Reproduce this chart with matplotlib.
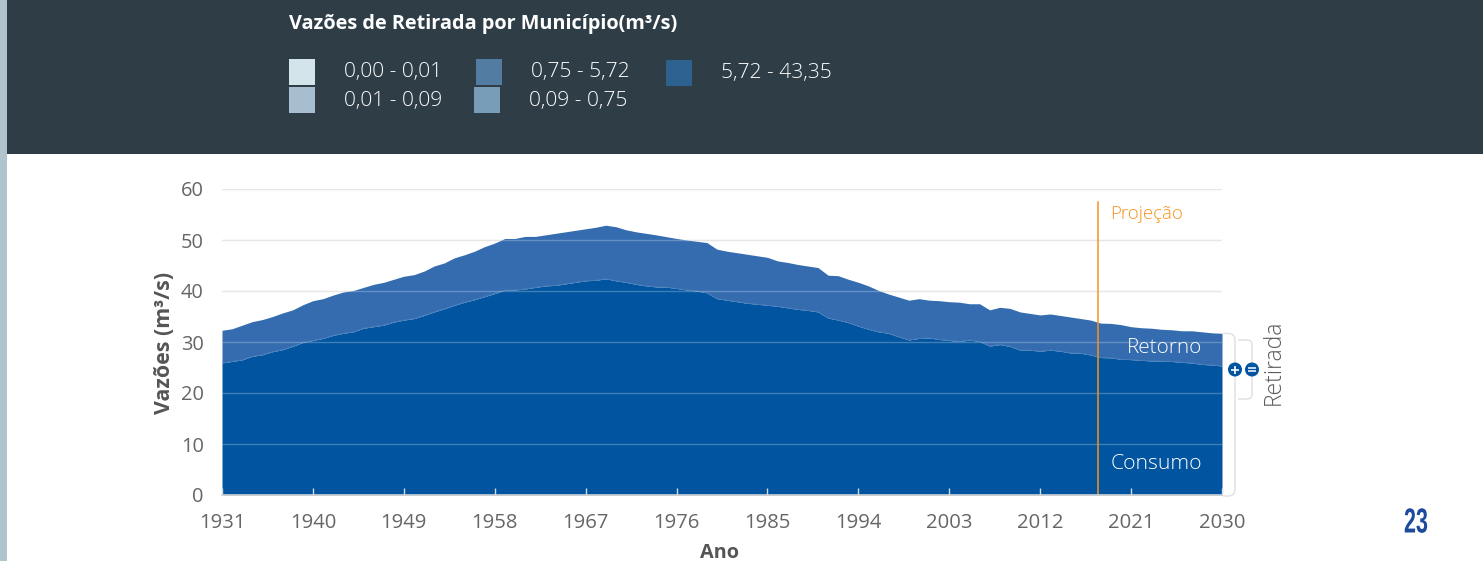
import numpy as np
import matplotlib
matplotlib.use("Agg")
import matplotlib.pyplot as plt
from matplotlib.patches import Rectangle, PathPatch, Circle
from matplotlib.path import Path
from matplotlib.patheffects import AbstractPathEffect
from matplotlib.transforms import Affine2D

plt.rcParams['font.family'] = ['Open Sans', 'DejaVu Sans']

years = list(range(1931, 2031))
consumo = [25.9,26.2,26.5,27.2,27.5,28.1,28.5,29.15,29.9,30.3,
           30.7,31.3,31.7,32.0,32.7,33.0,33.3,33.9,34.3,34.6,
           35.2,35.9,36.5,37.2,37.8,38.3,38.9,39.5,40.2,40.2,
           40.4,40.7,41.0,41.1,41.4,41.7,42.0,42.1,42.4,42.0,
           41.7,41.3,41.0,40.8,40.75,40.5,40.2,40.0,39.65,38.5,
           38.2,37.9,37.6,37.4,37.2,37.0,36.7,36.4,36.2,35.9,
           34.7,34.3,33.8,33.1,32.5,32.0,31.7,31.0,30.4,30.7,
           30.8,30.5,30.3,30.1,30.4,30.1,29.2,29.5,29.15,28.4,
           28.4,28.2,28.4,28.2,27.85,27.8,27.45,26.95,26.9,26.6,
           26.55,26.4,26.3,26.25,26.2,26.0,25.9,25.6,25.5,25.3]
retirada = [32.3,32.6,33.3,34.0,34.4,35.0,35.7,36.3,37.3,38.1,
            38.5,39.2,39.8,40.1,40.7,41.3,41.7,42.3,42.9,43.2,
            43.9,44.9,45.5,46.5,47.1,47.8,48.7,49.4,50.3,50.3,
            50.7,50.7,51.0,51.3,51.6,51.9,52.2,52.5,52.9,52.6,
            52.0,51.6,51.3,51.0,50.65,50.3,50.0,49.75,49.5,48.2,
            47.8,47.5,47.2,46.9,46.6,45.9,45.6,45.2,44.9,44.6,
            43.1,43.0,42.3,41.7,41.0,40.1,39.4,38.8,38.2,38.5,
            38.2,38.1,37.9,37.8,37.5,37.5,36.3,36.8,36.6,35.9,
            35.6,35.3,35.5,35.2,34.9,34.6,34.3,33.7,33.65,33.4,
            33.0,32.8,32.7,32.5,32.4,32.2,32.2,32.0,31.8,31.7]
xticks = list(range(1931, 2031, 9))
yticks = [0, 10, 20, 30, 40, 50, 60]
projection_year = 2017.7
legend_title = "Vazões de Retirada por Município(m³/s)"
legend_labels = ["0,00 - 0,01", "0,01 - 0,09", "0,75 - 5,72", "0,09 - 0,75", "5,72 - 43,35"]
legend_colors = ["#d3e5ea", "#a6becf", "#527ca1", "#789db8", "#2d6190"]

W, H = 1483, 561
fig = plt.figure(figsize=(W/100, H/100), dpi=100, facecolor="white")

# background overlay in pixel coordinates
bg = fig.add_axes([0, 0, 1, 1], zorder=0)
bg.set_xlim(0, W); bg.set_ylim(H, 0); bg.axis("off")
bg.add_patch(Rectangle((0, 0), 7, H, fc="#b0c4ce", ec="none"))
bg.add_patch(Rectangle((7, 0), W-7, 154, fc="#2f3e46", ec="none"))
bg.text(289, 24, legend_title, color="white", fontsize=14.3, fontweight="bold", va="center", ha="left")
swatches = [(289, 59, 26, 26, 344, 72), (289, 87, 26, 26, 344, 101),
            (476, 59, 26, 26, 531, 72), (474, 87, 26, 26, 529, 101),
            (666, 60, 26, 26, 721, 73)]
for (x, y, w, h, tx, ty), c, l in zip(swatches, legend_colors, legend_labels):
    bg.add_patch(Rectangle((x, y), w, h, fc=c, ec="none"))
    bg.text(tx, ty, l, color="white", fontsize=15.1, va="center", ha="left", fontweight="light")

# main chart
ax = fig.add_axes([222/W, 1-495/H, 1000/W, 306/H], zorder=1)
ax.patch.set_alpha(0)
ax.set_xlim(1931, 2030); ax.set_ylim(0, 60)
cons = np.array(consumo); ret = np.array(retirada)
ax.fill_between(years, 0, cons, color="#0054a0", lw=0, zorder=2)
ax.fill_between(years, cons, ret, color="#346caf", lw=0, zorder=2)
ax.plot(years, cons, color="#4a80bc", lw=0.5, zorder=2.5)
for y in yticks[1:]:
    ax.axhline(y, color="#dfdfdf", lw=1.0, zorder=1)
    ax.axhline(y, color="white", alpha=0.25, lw=1.0, zorder=3)
for s in ["top", "right", "left"]:
    ax.spines[s].set_visible(False)
ax.spines["bottom"].set_color("#d5d5d5"); ax.spines["bottom"].set_linewidth(1.2)
ax.spines["bottom"].set_zorder(5)
ax.set_xticks(xticks); ax.set_yticks(yticks)
ax.tick_params(axis="x", direction="in", length=5, width=1, color="#d0dbe8", labelsize=14.6, labelcolor="#666666", pad=13)
ax.tick_params(axis="y", length=0, labelsize=14.4, labelcolor="#666666", pad=13)
ax.set_axisbelow(False)
ax.axvline(projection_year, ymin=0, ymax=293/306, color="#f7931e", lw=1.1, zorder=4)

# annotations in pixel coordinates
fg = fig.add_axes([0, 0, 1, 1], zorder=2)
fg.set_xlim(0, W); fg.set_ylim(H, 0); fg.axis("off")
fg.text(1110, 214, "Projeção", color="#f7931e", fontsize=13.4, va="center", ha="left", fontweight="light")
fg.text(1202, 348, "Retorno", color="white", fontsize=14.9, va="center", ha="right", fontweight="light")
fg.text(1202, 464, "Consumo", color="white", fontsize=15.2, va="center", ha="right", fontweight="light")
fg.text(165, 343, "Vazões (m³/s)", color="#555555", fontsize=15.4, fontweight="bold", rotation=90, va="center", ha="center")
fg.text(720, 553, "Ano", color="#555555", fontsize=14.3, fontweight="bold", va="center", ha="center")
fg.text(1274, 362, "Retirada", color="#5c5c5c", fontsize=16.5, rotation=90, va="center", ha="center", fontweight="light")


class SqueezeX(AbstractPathEffect):
    """Narrow a text around a display-x centre, keeping it a real text object."""
    def __init__(self, cx, factor):
        super().__init__()
        self.cx, self.factor = cx, factor

    def draw_path(self, renderer, gc, tpath, affine, rgbFace=None):
        t = affine + Affine2D().translate(-self.cx, 0).scale(self.factor, 1).translate(self.cx, 0)
        renderer.draw_path(gc, tpath, t, rgbFace)


fg.text(1416, 523, "23", color="#1c4a9c", fontsize=25, fontweight="bold", va="center", ha="center",
        family=["Liberation Sans", "DejaVu Sans"], path_effects=[SqueezeX(1416, 0.62)])


def bracket(x0, x1, y0, y1, r):
    verts = [(x0, y0), (x1-r, y0), (x1, y0), (x1, y0+r), (x1, y1-r), (x1, y1), (x1-r, y1), (x0, y1)]
    codes = [Path.MOVETO, Path.LINETO, Path.CURVE3, Path.CURVE3, Path.LINETO, Path.CURVE3, Path.CURVE3, Path.LINETO]
    fg.add_patch(PathPatch(Path(verts, codes), fc="none", ec="#e2e2e2", lw=1.1))


bracket(1223, 1235, 333.5, 496, 7)
bracket(1238, 1252, 340, 399, 5)
for cx in (1235, 1252):
    fg.add_patch(Circle((cx, 369.5), 7, fc="#0054a0", ec="none", zorder=5))
fg.plot([1231, 1239], [369.5, 369.5], color="white", lw=1.2, zorder=6, solid_capstyle="butt")
fg.plot([1235, 1235], [365.5, 373.5], color="white", lw=1.2, zorder=6, solid_capstyle="butt")
fg.plot([1248, 1256], [368, 368], color="white", lw=1.1, zorder=6, solid_capstyle="butt")
fg.plot([1248, 1256], [371, 371], color="white", lw=1.1, zorder=6, solid_capstyle="butt")

fig.savefig("out.png", dpi=100, facecolor="white")
